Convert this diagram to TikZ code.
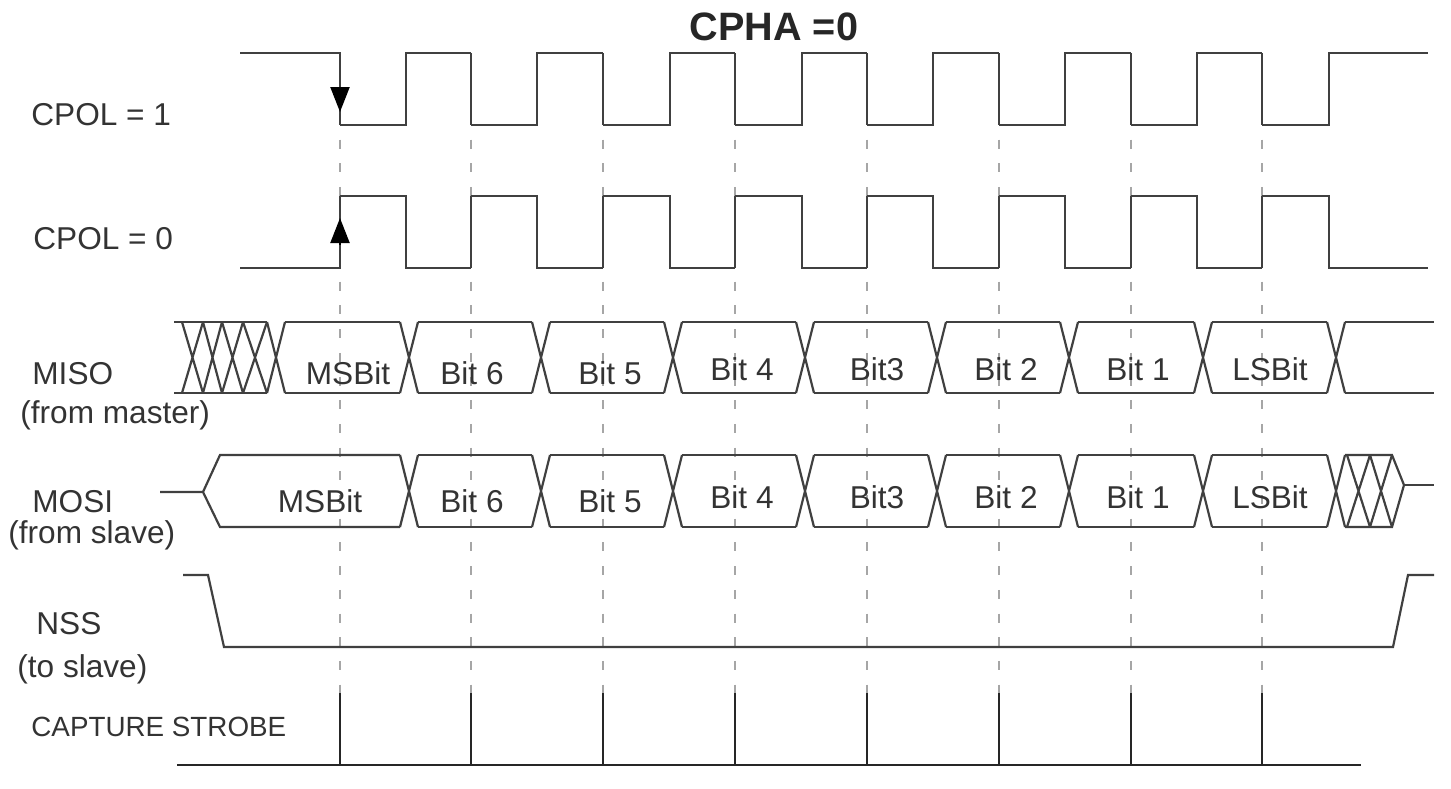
\documentclass[tikz,border=0pt]{standalone}
\usepackage{fontspec}
\setmainfont{Liberation Sans}
\usetikzlibrary{arrows.meta}

\definecolor{sigcol}{gray}{0.25}
\tikzset{
  sig/.style={draw=sigcol, line width=1.1pt, line join=miter},
  guide/.style={draw=gray!70, line width=.9pt, dash pattern=on 4.5pt off 7.35pt, dash phase=4.6pt},
  strobe/.style={draw=black!85, line width=1.1pt},
  edgemark/.style={draw=black, line width=1.1pt, -{Triangle[length=12.5pt,width=9.5pt]}},
  lab/.style={inner sep=0pt, anchor=base west, font=\fontsize{15.8}{18}\selectfont, text=black!80},
  bit/.style={inner sep=0pt, anchor=base, font=\fontsize{15.8}{18}\selectfont, text=black!80}
}

\begin{document}
\begin{tikzpicture}[x=.5pt, y=-.5pt]
  \useasboundingbox (0,0) rectangle (1451,788);

  \node[inner sep=0pt, anchor=base, font=\bfseries\fontsize{19.8}{22}\selectfont, text=black!85] (title) at (774,40) {CPHA =0};

  % guides behind everything
  \foreach \x in {340,471,603,735,867,999,1131,1262}
    \draw[guide] (\x,125) -- (\x,693);

  % clocks
  \draw[sig] (240,53) -- (340,53) -- (340,125);
  \draw[sig] (240,268) -- (340,268) -- (340,196);
  \foreach \a/\b/\c in {340/406/471, 471/537/603, 603/670/735, 735/802/867, 867/933/999, 999/1065/1131, 1131/1197/1262, 1262/1329/1428} {
    \draw[sig] (\a,125) -- (\b,125) -- (\b,53) -- (\c,53);
    \draw[sig] (\a,196) -- (\b,196) -- (\b,268) -- (\c,268);
  }
  \foreach \c in {471,603,735,867,999,1131,1262} {
    \draw[sig] (\c,53) -- (\c,125);
    \draw[sig] (\c,268) -- (\c,196);
  }
  \draw[edgemark] (340,87) -- (340,112);
  \draw[edgemark] (340,245) -- (340,218);

  % data cells
  \foreach \t/\u in {322/393, 455/527} {
    \foreach \x in {409,541,673,805,937,1069,1203,1336}
      \draw[sig] (\x-9,\t) -- (\x+9,\u) (\x-9,\u) -- (\x+9,\t);
    \foreach \a/\b in {409/541,541/673,673/805,805/937,937/1069,1069/1203,1203/1336}
      \draw[sig] (\a+9,\t) -- (\b-9,\t) (\a+9,\u) -- (\b-9,\u);
  }

  % MISO ends
  \draw[sig] (174,322) -- (267,322) (174,393) -- (267,393);
  \foreach \a/\b in {182/203,203/222,222/243,243/267,267/285}
    \draw[sig] (\a,322) -- (\b,393) (\a,393) -- (\b,322);
  \draw[sig] (285,322) -- (400,322) (285,393) -- (400,393);
  \draw[sig] (1345,322) -- (1434,322) (1345,393) -- (1434,393);

  % MOSI ends
  \draw[sig] (160,492) -- (203,492) -- (220,455) -- (400,455);
  \draw[sig] (203,492) -- (220,527) -- (400,527);
  \draw[sig] (1345,455) -- (1392,455) -- (1404,485) -- (1392,527) -- (1345,527);
  \foreach \a/\b in {1347/1370,1370/1392}
    \draw[sig] (\a,455) -- (\b,527) (\a,527) -- (\b,455);
  \draw[sig] (1404,485) -- (1434,485);

  % NSS
  \draw[sig] (183,575) -- (208,575) -- (224,647) -- (1393,647) -- (1408,575) -- (1434,575);

  % strobes
  \draw[strobe] (177,765) -- (1361,765);
  \foreach \x in {340,471,603,735,867,999,1131,1262}
    \draw[strobe] (\x,693) -- (\x,765);

  % left labels
  \node[lab] (cpolone) at (31,125) {CPOL = 1};
  \node[lab] (cpolzero) at (33,249) {CPOL = 0};
  \node[lab] (miso) at (32,384) {MISO};
  \node[lab] (misonote) at (20,423) {(from master)};
  \node[lab] (mosi) at (32,512) {MOSI};
  \node[lab] (mosinote) at (8,543) {(from slave)};
  \node[lab] (nss) at (36,634) {NSS};
  \node[lab] (nssnote) at (17,677) {(to slave)};
  \node[lab, font=\fontsize{13.9}{15}\selectfont] (strobelab) at (31,736) {CAPTURE STROBE};

  % bit labels
  \foreach \x/\y/\s/\n in {348/384/MSBit/a, 472/384/Bit 6/b, 610/384/Bit 5/c, 742/380/Bit 4/d, 877/380/Bit3/e, 1006/380/Bit 2/f, 1138/380/Bit 1/g, 1270/380/LSBit/h}
    \node[bit] (miso\n) at (\x,\y) {\s};
  \foreach \x/\y/\s/\n in {320/512/MSBit/a, 472/512/Bit 6/b, 610/512/Bit 5/c, 742/508/Bit 4/d, 877/508/Bit3/e, 1006/508/Bit 2/f, 1138/508/Bit 1/g, 1270/508/LSBit/h}
    \node[bit] (mosi\n) at (\x,\y) {\s};
\end{tikzpicture}
\end{document}
